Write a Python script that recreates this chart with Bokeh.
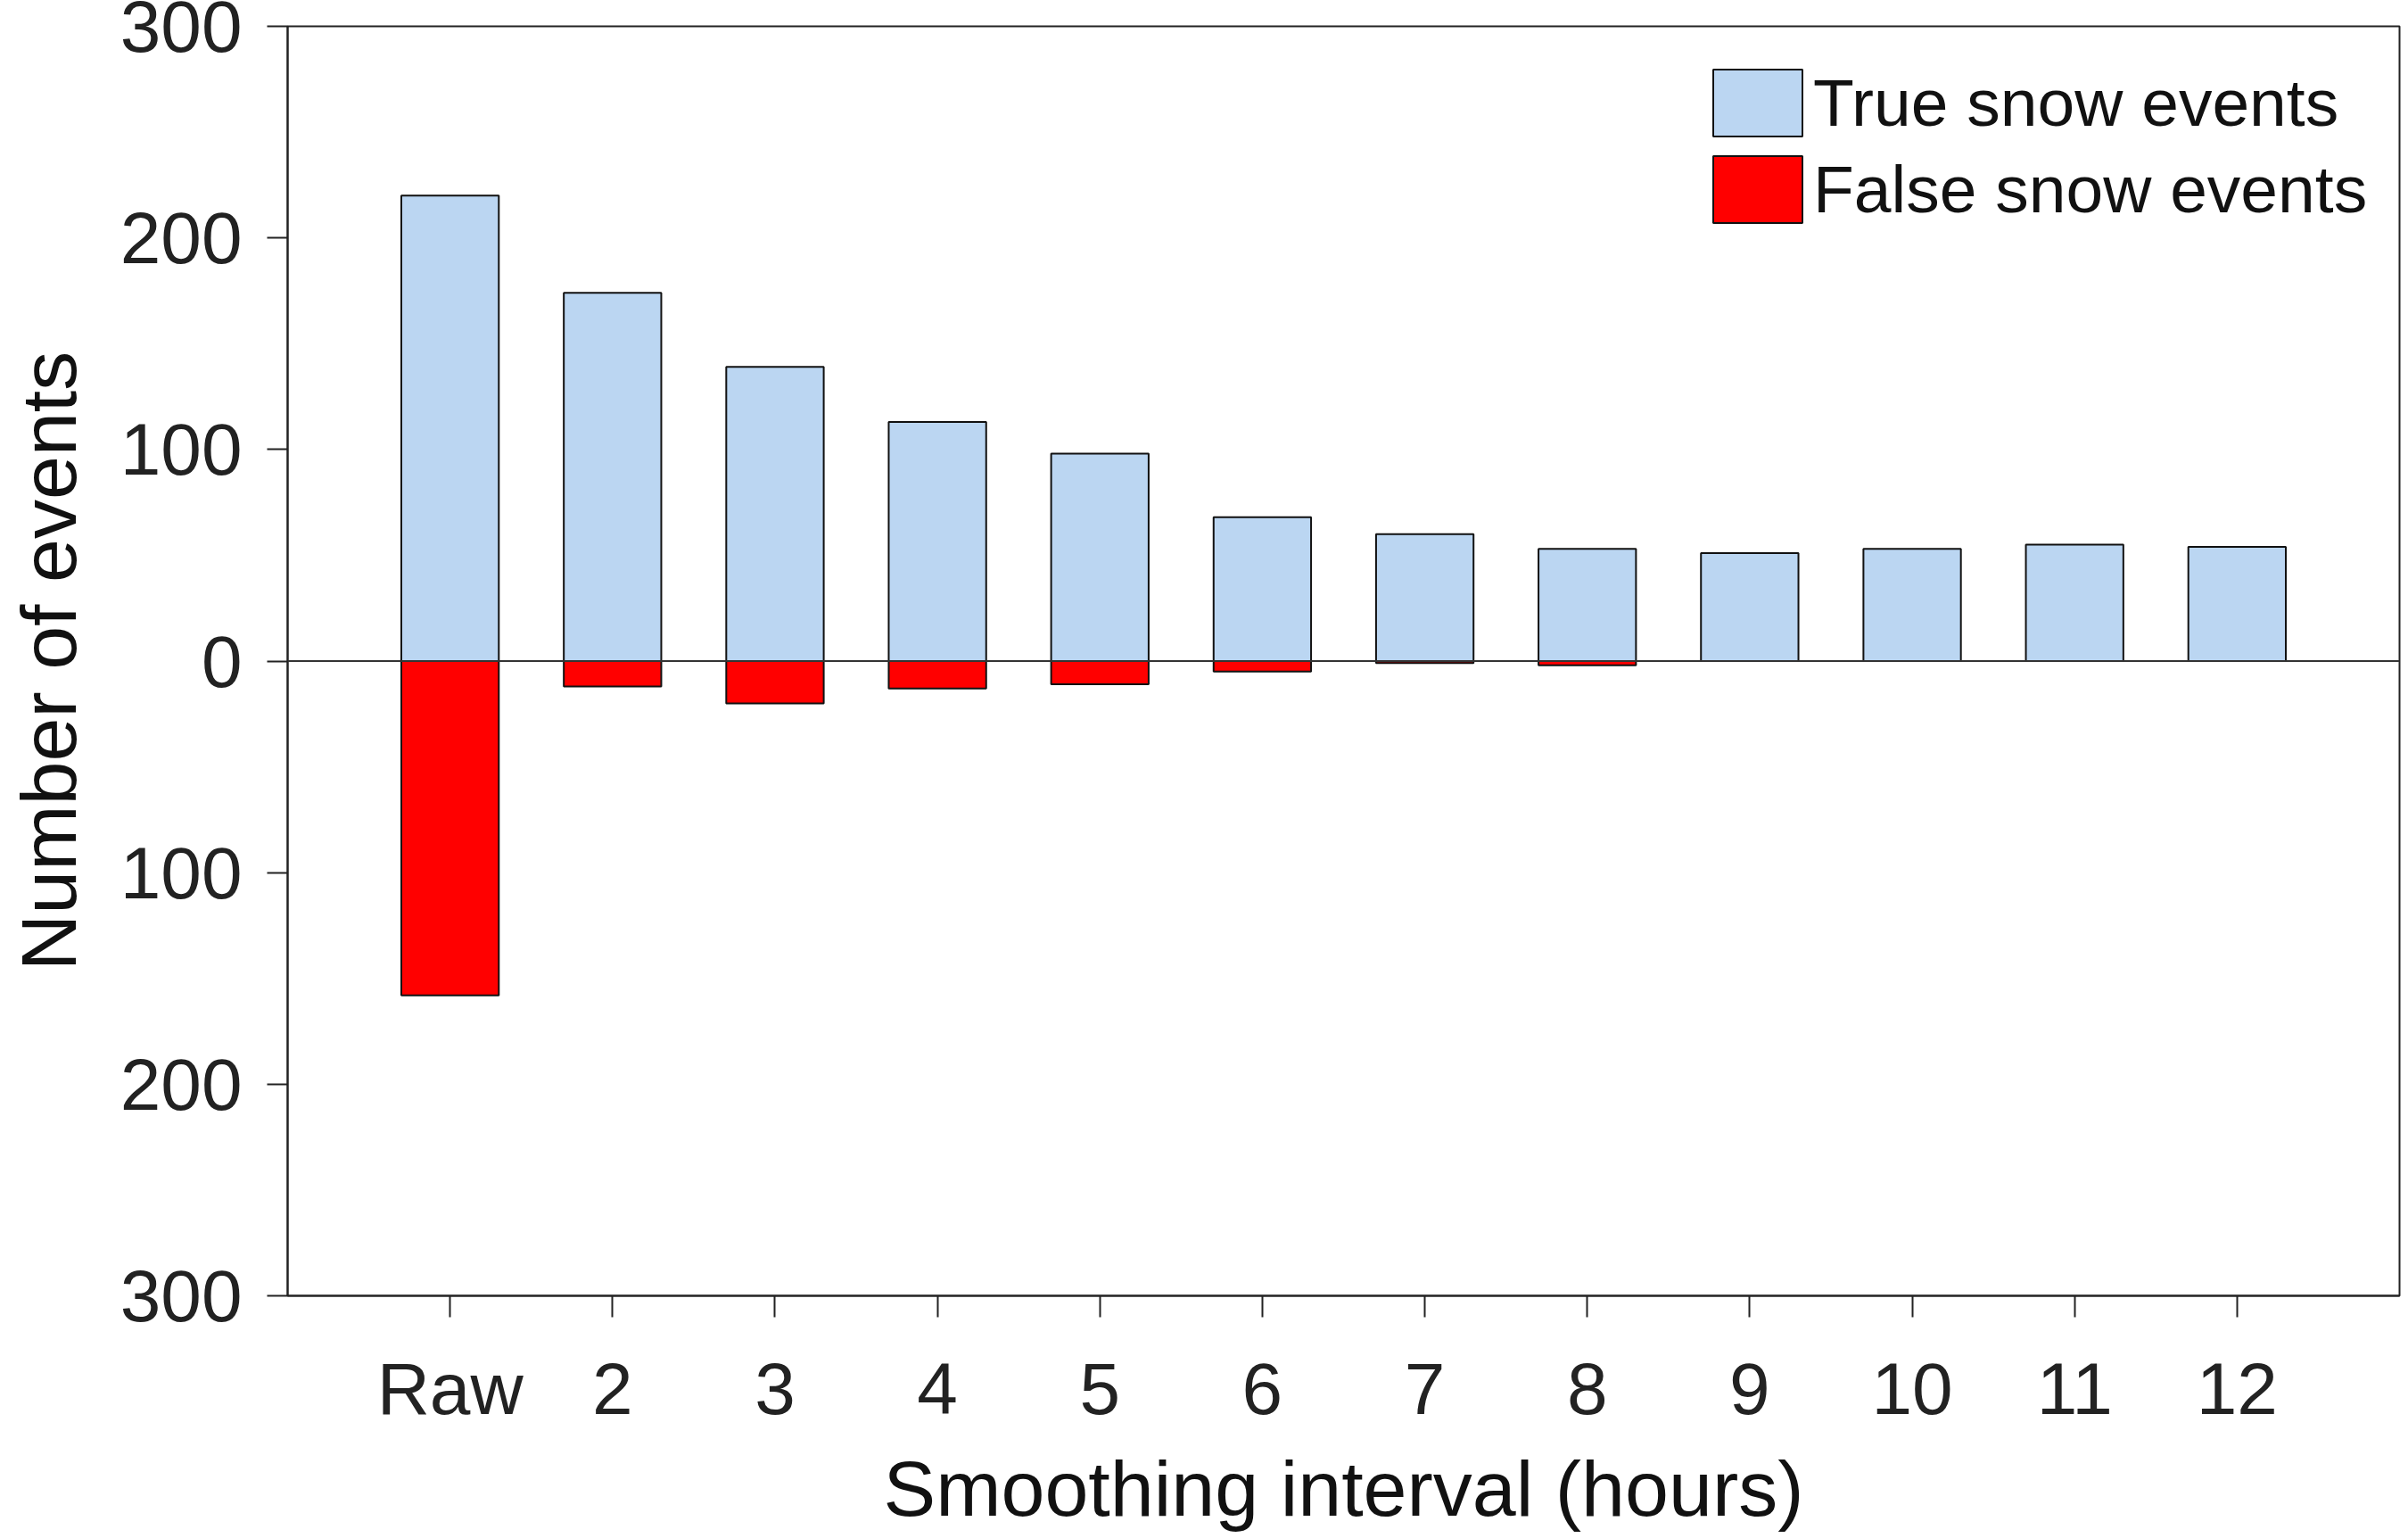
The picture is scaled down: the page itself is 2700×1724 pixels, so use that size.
from bokeh.plotting import figure
from bokeh.models import FixedTicker, Span, Legend, LegendItem
from bokeh.embed import file_html
from bokeh.resources import INLINE

# Data
categories = ["Raw", "2", "3", "4", "5", "6", "7", "8", "9", "10", "11", "12"]
positions = [1, 2, 3, 4, 5, 6, 7, 8, 9, 10, 11, 12]
true_events = [220, 174, 139, 113, 98, 68, 60, 53, 51, 53, 55, 54]
false_events = [158, 12, 20, 13, 11, 5, 1, 2, 0, 0, 0, 0]
y_ticks = [-300, -200, -100, 0, 100, 200, 300]

FONT = "Liberation Sans"

p = figure(frame_width=2368, frame_height=1423, x_range=(0, 13), y_range=(-300, 300),
           output_backend="svg", toolbar_location=None,
           min_border_left=322, min_border_right=2, min_border_top=29, min_border_bottom=262)
p.grid.visible = False
p.outline_line_color = "#222222"
p.outline_line_width = 2
p.background_fill_color = "white"
p.border_fill_color = "white"

neg_false = [-v for v in false_events]
r_true = p.vbar(x=positions, top=true_events, bottom=0, width=0.6,
                fill_color="#BBD6F2", line_color="#111111", line_width=2)
r_false = p.vbar(x=positions, top=0, bottom=neg_false, width=0.6,
                 fill_color="#FF0000", line_color="#111111", line_width=2)

zero = Span(location=0, dimension="width", line_color="#333333", line_width=2)
p.add_layout(zero)

# X axis
xa = p.xaxis[0]
xa.ticker = FixedTicker(ticks=positions)
xa.major_label_overrides = {pos: lab for pos, lab in zip(positions, categories)}
xa.minor_tick_line_color = None
xa.major_tick_in = 0
xa.major_tick_out = 24
xa.major_tick_line_width = 2
xa.major_tick_line_color = "#222222"
xa.axis_line_width = 2
xa.axis_line_color = "#222222"
xa.major_label_text_font = FONT
xa.major_label_text_font_size = "82px"
xa.major_label_text_color = "#222222"
xa.major_label_standoff = 34
xa.axis_label = "Smoothing interval (hours)"
xa.axis_label_text_font = FONT
xa.axis_label_text_font_size = "88px"
xa.axis_label_text_font_style = "normal"
xa.axis_label_text_color = "#111111"
xa.axis_label_standoff = 14

# Y axis
ya = p.yaxis[0]
ya.ticker = FixedTicker(ticks=y_ticks)
ya.major_label_overrides = {t: str(abs(t)) for t in y_ticks}
ya.minor_tick_line_color = None
ya.major_tick_in = 0
ya.major_tick_out = 23
ya.major_tick_line_width = 2
ya.major_tick_line_color = "#222222"
ya.axis_line_width = 2
ya.axis_line_color = "#222222"
ya.major_label_text_font = FONT
ya.major_label_text_font_size = "82px"
ya.major_label_text_color = "#222222"
ya.major_label_standoff = 28
ya.axis_label = "Number of events"
ya.axis_label_text_font = FONT
ya.axis_label_text_font_size = "88px"
ya.axis_label_text_font_style = "normal"
ya.axis_label_text_color = "#111111"
ya.axis_label_standoff = 28

legend = Legend(items=[LegendItem(label="True snow events", renderers=[r_true]),
                       LegendItem(label="False snow events", renderers=[r_false])],
                location=(1586, 1193), glyph_width=125, glyph_height=94, spacing=3,
                padding=0, margin=0, label_standoff=0,
                label_text_font=FONT, label_text_font_size="75px", label_text_color="#111111",
                border_line_alpha=0, background_fill_alpha=0)
p.add_layout(legend)

open("out.html", "w").write(file_html(p, INLINE))
